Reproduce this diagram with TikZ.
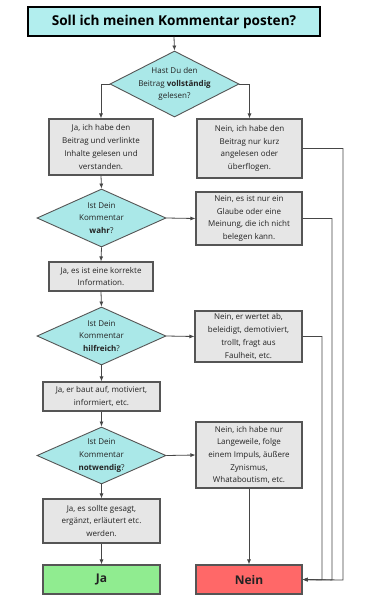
\documentclass[tikz,border=0pt]{standalone}
\usepackage{fontspec}
\setmainfont{Open Sans}
\usetikzlibrary{arrows.meta,shapes.geometric}
\definecolor{titlefill}{RGB}{178,238,238}
\definecolor{diafill}{RGB}{170,232,232}
\definecolor{boxfill}{RGB}{230,230,230}
\definecolor{boxdraw}{RGB}{85,85,85}
\definecolor{jafill}{RGB}{144,236,144}
\definecolor{neinfill}{RGB}{255,104,104}
\definecolor{linecol}{RGB}{70,70,70}
\definecolor{txt}{RGB}{35,35,35}
\tikzset{
  titlebox/.style={draw=black, line width=1.3pt, fill=titlefill, minimum width=292pt, minimum height=29pt, inner sep=0pt, font=\fontsize{13.6}{16}\selectfont\bfseries, text=black},
  decision/.style={draw=boxdraw, line width=0.9pt, fill=diafill, shape=diamond, inner sep=0pt, minimum width=129pt, minimum height=58pt},
  dtext/.style={font=\fontsize{8}{12.7}\selectfont, text=txt, align=center},
  infobox/.style={draw=boxdraw, line width=1.1pt, fill=boxfill, inner sep=0pt, align=center, font=\fontsize{8}{12.7}\selectfont, text=txt},
  endbox/.style={draw=boxdraw, line width=1.1pt, inner sep=0pt, minimum width=117pt, minimum height=29pt, font=\fontsize{12}{14}\selectfont\bfseries, text=txt},
  conn/.style={draw=linecol, line width=0.8pt, -{Latex[length=5pt,width=4pt]}},
  plainconn/.style={draw=linecol, line width=0.8pt}
}
\begin{document}
\begin{tikzpicture}[x=1pt,y=-1pt]
\useasboundingbox (0,0) rectangle (376,611);
\fill[white] (0,0) rectangle (376,611);

\node[titlebox] (title) at (174,21.5) {Soll ich meinen Kommentar posten?};

\node[decision, minimum height=66pt] (d1) at (174.5,84) {};
\node[dtext] (d1t) at (d1.center) {Hast Du den\\Beitrag \textbf{vollständig}\\gelesen?};

\node[infobox, minimum width=104pt, minimum height=56pt] (bL1) at (101,147) {Ja, ich habe den\\Beitrag und verlinkte\\Inhalte gelesen und\\verstanden.};
\node[infobox, minimum width=105pt, minimum height=59pt] (bR1) at (249.5,148.5) {Nein, ich habe den\\Beitrag nur kurz\\angelesen oder\\überflogen.};

\node[decision] (d2) at (101.5,218) {};
\node[dtext] (d2t) at (d2.center) {Ist Dein\\Kommentar\\\textbf{wahr}?};
\node[infobox, minimum width=106pt, minimum height=53pt] (bR2) at (249,218.5) {Nein, es ist nur ein\\Glaube oder eine\\Meinung, die ich nicht\\belegen kann.};
\node[infobox, minimum width=104pt, minimum height=29pt] (bL2) at (101,276.5) {Ja, es ist eine korrekte\\Information.};

\node[decision] (d3) at (101.5,336) {};
\node[dtext] (d3t) at (d3.center) {Ist Dein\\Kommentar\\\textbf{hilfreich}?};
\node[infobox, minimum width=107pt, minimum height=51pt] (bR3) at (248.5,336.5) {Nein, er wertet ab,\\beleidigt, demotiviert,\\trollt, fragt aus\\Faulheit, etc.};
\node[infobox, minimum width=117pt, minimum height=29pt] (bL3) at (101.5,396.5) {Ja, er baut auf, motiviert,\\informiert, etc.};

\node[decision, minimum height=57pt] (d4) at (101.5,455.5) {};
\node[dtext] (d4t) at (d4.center) {Ist Dein\\Kommentar\\\textbf{notwendig}?};
\node[infobox, minimum width=106pt, minimum height=66pt] (bR4) at (249,455) {Nein, ich habe nur\\Langeweile, folge\\einem Impuls, äußere\\Zynismus,\\Whataboutism, etc.};
\node[infobox, minimum width=117pt, minimum height=44pt] (bL4) at (101.5,521) {Ja, es sollte gesagt,\\ergänzt, erläutert etc.\\werden.};

\node[endbox, fill=jafill] (ja) at (101.5,579.5) {Ja};
\node[endbox, fill=neinfill, minimum width=106pt] (nein) at (249,579.5) {Nein};

\coordinate (r1) at (343,580);
\coordinate (r2) at (332,580);
\coordinate (r3) at (322,580);

\draw[conn] (title.south) -- (d1.north);
\draw[conn] (d1.west) -| (bL1.north);
\draw[conn] (d1.east) -| (bR1.north);
\draw[conn] (bL1.south) -- (d2.north);
\draw[conn] (d2.east) -- (bR2.west);
\draw[conn] (d2.south) -- (bL2.north);
\draw[conn] (bL2.south) -- (d3.north);
\draw[conn] (d3.east) -- (bR3.west);
\draw[conn] (d3.south) -- (bL3.north);
\draw[conn] (bL3.south) -- (d4.north);
\draw[conn] (d4.east) -- (bR4.west);
\draw[conn] (d4.south) -- (bL4.north);
\draw[conn] (bL4.south) -- (ja.north);
\draw[conn] (bR4.south) -- (nein.north);
\draw[conn] (bR1.east) -| (r1) -- (nein.east);
\draw[conn] (bR2.east) -| (r2) -- (nein.east);
\draw[conn] (bR3.east) -| (r3) -- (nein.east);
\end{tikzpicture}
\end{document}
